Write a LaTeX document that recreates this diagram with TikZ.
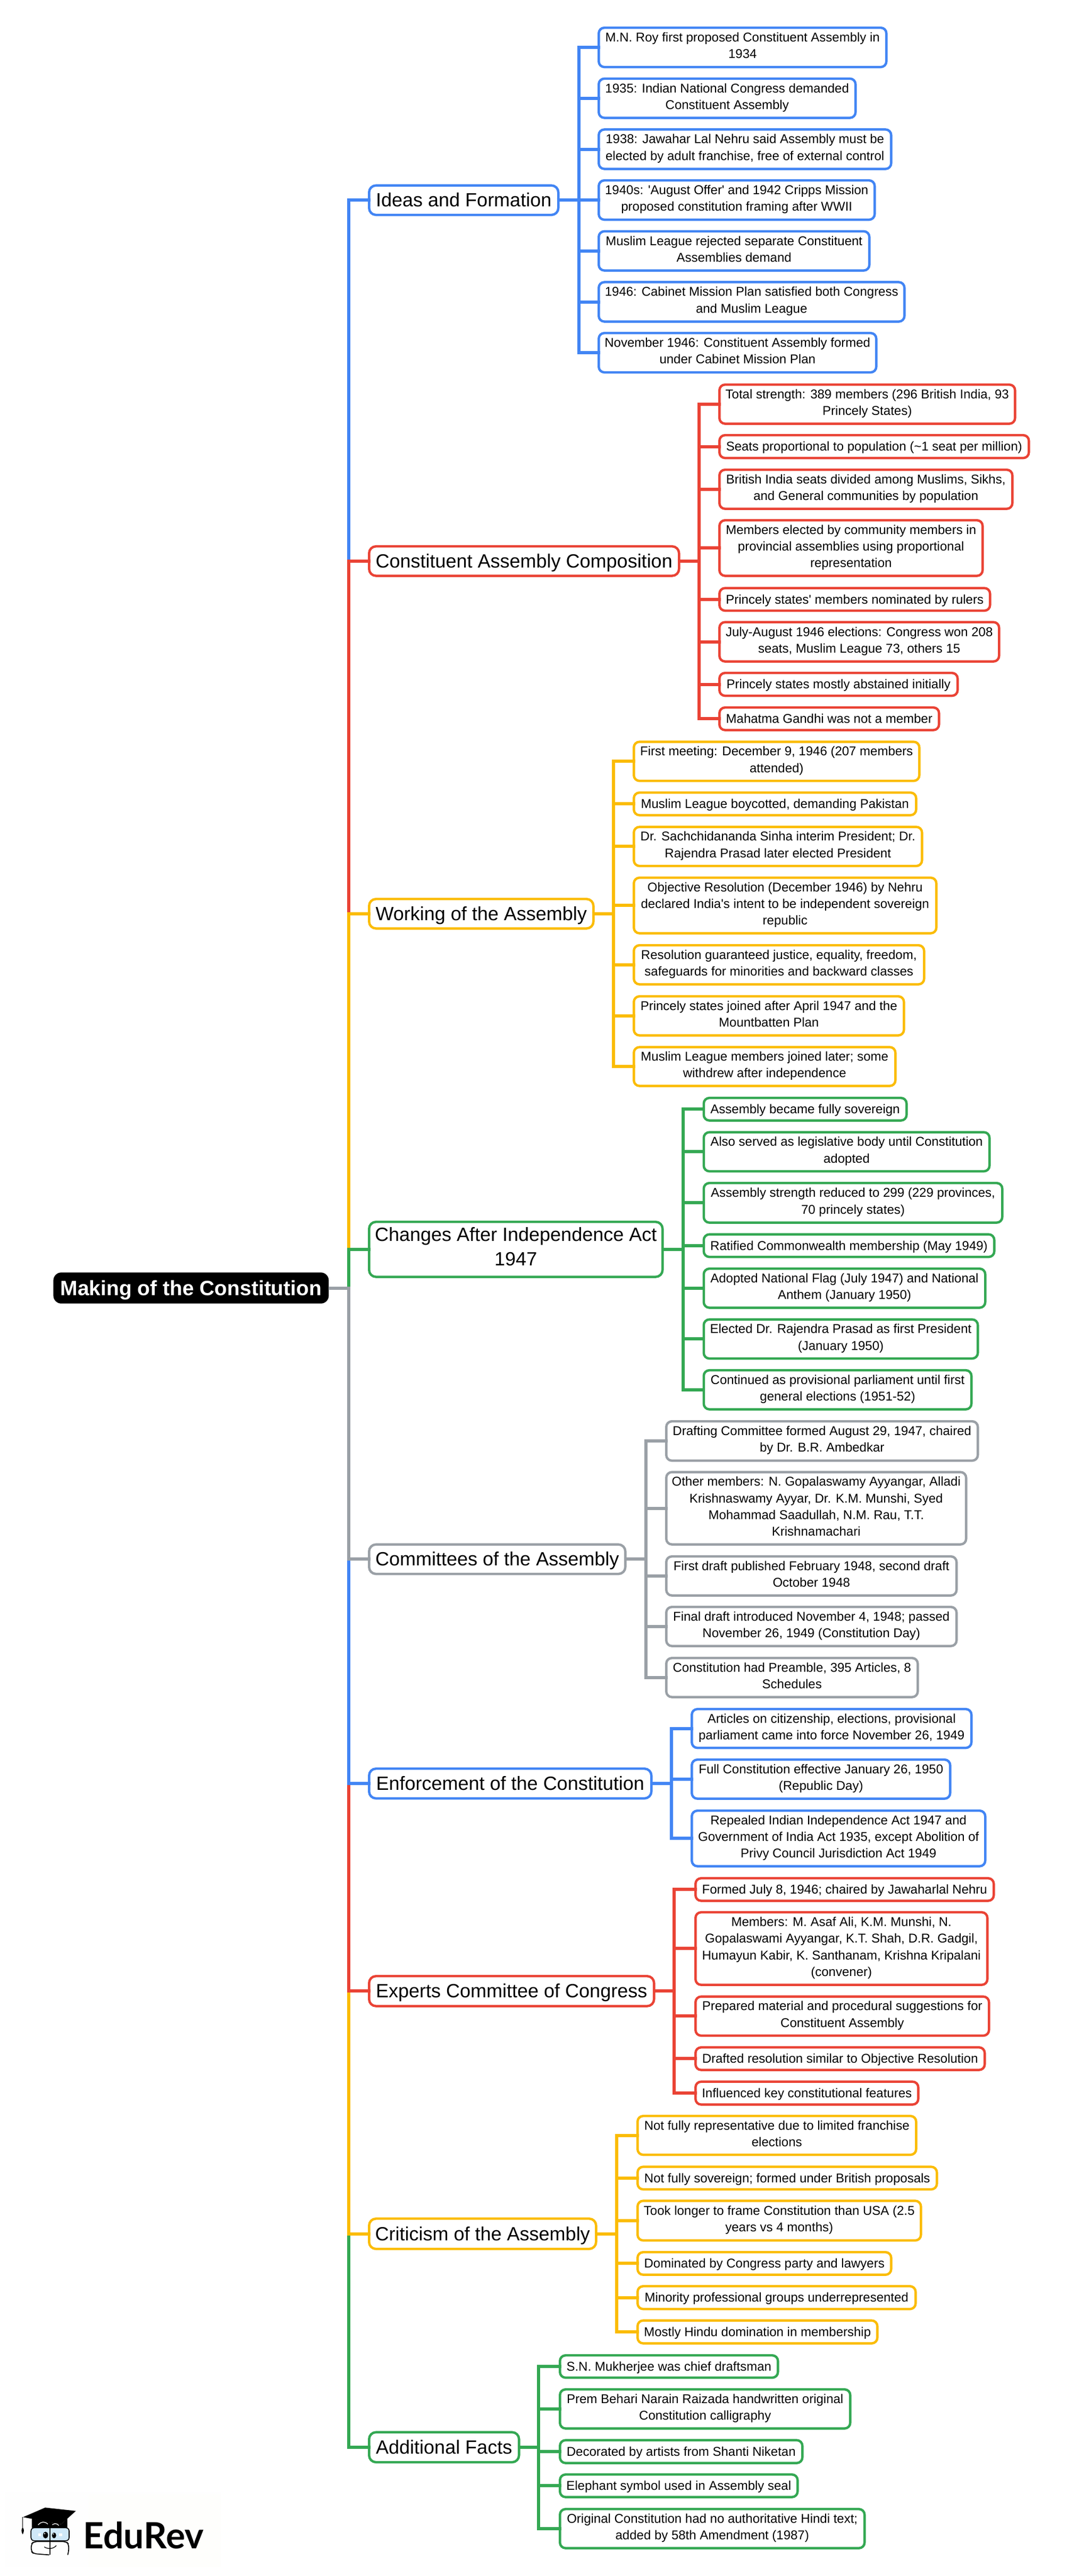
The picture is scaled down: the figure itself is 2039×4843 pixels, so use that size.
\documentclass[tikz,border=0pt]{standalone}
\usepackage{fontspec}
\setmainfont[Ligatures=TeXOff]{Liberation Sans}
\newfontfamily\latofont{Lato}
\definecolor{gblue}{HTML}{4285F4}
\definecolor{gred}{HTML}{EA4335}
\definecolor{gyellow}{HTML}{FBBC04}
\definecolor{ggreen}{HTML}{34A853}
\definecolor{ggray}{HTML}{9AA0A6}
\definecolor{glass}{HTML}{CFE8F8}
\definecolor{tintA}{HTML}{FEFEFE}
\definecolor{tintB}{HTML}{FEFEFC}
\def\lstrut{\rule[-.3035em]{0pt}{1.3em}}
\tikzset{
  box/.style={draw=#1,fill=white,line width=4.5pt,rounded corners=10.5pt,inner sep=0pt,outer sep=0pt,align=center,text=black,
    execute at begin node=\lstrut,execute at end node=\lstrut},
  leafbox/.style={box=#1,font=\fontsize{24}{31.2}\selectfont},
  mainbox/.style={box=#1,rounded corners=13pt,font=\fontsize{36}{46.8}\selectfont},
  rootbox/.style={fill=black,text=white,rounded corners=15pt,inner sep=0pt,outer sep=0pt,align=center,
    execute at begin node=\lstrut,execute at end node=\lstrut,
    font=\fontsize{39}{50}\selectfont\bfseries},
  cn/.style={draw=#1,line width=6pt,line cap=butt,line join=miter,shorten >=-2.5pt,shorten <=-2.5pt},
  rootcn/.style={draw=#1,line width=6pt,line cap=butt,line join=miter,shorten >=-2.5pt},
}
\newcommand\nd[7]{\node[#2,minimum width={#4-#3+2.5-4.5},minimum height={#6-#5+1.9-4.5}] (#1) at ({(#3+#4+.5)/2},{-(#5+#6-.3)/2}) {#7};}
\begin{document}
\begin{tikzpicture}[x=1pt,y=1pt]
\useasboundingbox (0,0) rectangle (2039,-4843);
\fill[white] (0,0) rectangle (2039,-4843);
\coordinate (m) at (655.7,0);
\coordinate (sa) at (1088.5,0);
\coordinate (sb) at (1315,0);
\coordinate (sc) at (1153.5,0);
\coordinate (sd) at (1285,0);
\coordinate (se) at (1214.5,0);
\coordinate (sf) at (1263,0);
\coordinate (sg) at (1268,0);
\coordinate (sh) at (1160,0);
\coordinate (si) at (1013,0);
% root
\node[rootbox,minimum width=518,minimum height=58.4] (root) at (359.4,-2421.5) {Making of the Constitution};
% main topics
\nd{ideas}{mainbox=gblue}{693}{1051}{347.5}{405.5}{Ideas and Formation}
\nd{comp}{mainbox=gred}{693}{1278}{1026}{1084}{Constituent Assembly Composition}
\nd{work}{mainbox=gyellow}{693}{1117}{1689}{1747}{Working of the Assembly}
\nd{chg}{mainbox=ggreen}{693}{1247}{2296}{2402}{Changes After Independence Act\\1947}
\nd{cmte}{mainbox=ggray}{693}{1177}{2902.5}{2960.5}{Committees of the Assembly}
\nd{enf}{mainbox=gblue}{693}{1226}{3324}{3382.5}{Enforcement of the Constitution}
\nd{exp}{mainbox=gred}{693}{1231}{3714}{3773}{Experts Committee of Congress}
\nd{crit}{mainbox=gyellow}{693}{1122}{4170}{4229.5}{Criticism of the Assembly}
\nd{add}{mainbox=ggreen}{693}{977}{4571.5}{4630.5}{Additional Facts}
% leaves: ideas
\nd{a1}{leafbox=gblue}{1125}{1668}{51}{127.5}{M.N. Roy first proposed Constituent Assembly in\\1934}
\nd{a2}{leafbox=gblue}{1125}{1610}{146.7}{223}{1935: Indian National Congress demanded\\Constituent Assembly}
\nd{a3}{leafbox=gblue}{1125}{1677}{242.3}{319}{1938: Jawahar Lal Nehru said Assembly must be\\elected by adult franchise, free of external control}
\nd{a4}{leafbox=gblue}{1125}{1646}{338}{414.5}{1940s: 'August Offer' and 1942 Cripps Mission\\proposed constitution framing after WWII}
\nd{a5}{leafbox=gblue}{1125}{1636}{433.7}{510}{Muslim League rejected separate Constituent\\Assemblies demand}
\nd{a6}{leafbox=gblue}{1125}{1702}{529.3}{606}{1946: Cabinet Mission Plan satisfied both Congress\\and Muslim League}
\nd{a7}{leafbox=gblue}{1125}{1649}{625}{701.5}{November 1946: Constituent Assembly formed\\under Cabinet Mission Plan}
% composition
\nd{b1}{leafbox=gred}{1352}{1910}{722}{798}{Total strength: 389 members (296 British India, 93\\Princely States)}
\nd{b2}{leafbox=gred}{1352}{1936}{817}{862.5}{Seats proportional to population (\textasciitilde 1 seat per million)}
\nd{b3}{leafbox=gred}{1352}{1905}{882}{958}{British India seats divided among Muslims, Sikhs,\\and General communities by population}
\nd{b4}{leafbox=gred}{1352}{1849}{977}{1084}{Members elected by community members in\\provincial assemblies using proportional\\representation}
\nd{b5}{leafbox=gred}{1352}{1863}{1104.5}{1149.5}{Princely states' members nominated by rulers}
\nd{b6}{leafbox=gred}{1352}{1880}{1168.5}{1245}{July-August 1946 elections: Congress won 208\\seats, Muslim League 73, others 15}
\nd{b7}{leafbox=gred}{1352}{1802}{1264}{1309.5}{Princely states mostly abstained initially}
\nd{b8}{leafbox=gred}{1352}{1767}{1329}{1374}{Mahatma Gandhi was not a member}
% working
\nd{c1}{leafbox=gyellow}{1191}{1730}{1393.5}{1469.5}{First meeting: December 9, 1946 (207 members\\attended)}
\nd{c2}{leafbox=gyellow}{1191}{1724}{1489}{1534}{Muslim League boycotted, demanding Pakistan}
\nd{c3}{leafbox=gyellow}{1191}{1735}{1553.5}{1629.5}{Dr. Sachchidananda Sinha interim President; Dr.\\Rajendra Prasad later elected President}
\nd{c4}{leafbox=gyellow}{1191}{1762}{1649}{1756}{Objective Resolution (December 1946) by Nehru\\declared India's intent to be independent sovereign\\republic}
\nd{c5}{leafbox=gyellow}{1191}{1739}{1776}{1852}{Resolution guaranteed justice, equality, freedom,\\safeguards for minorities and backward classes}
\nd{c6}{leafbox=gyellow}{1191}{1701}{1872}{1948}{Princely states joined after April 1947 and the\\Mountbatten Plan}
\nd{c7}{leafbox=gyellow}{1191}{1685}{1967.5}{2043}{Muslim League members joined later; some\\withdrew after independence}
% changes
\nd{d1}{leafbox=ggreen}{1322.5}{1706}{2063}{2108}{Assembly became fully sovereign}
\nd{d2}{leafbox=ggreen}{1322.5}{1862}{2127.5}{2203.5}{Also served as legislative body until Constitution\\adopted}
\nd{d3}{leafbox=ggreen}{1322.5}{1886}{2223}{2300}{Assembly strength reduced to 299 (229 provinces,\\70 princely states)}
\nd{d4}{leafbox=ggreen}{1322.5}{1871}{2319.5}{2364.5}{Ratified Commonwealth membership (May 1949)}
\nd{d5}{leafbox=ggreen}{1322.5}{1854}{2384}{2460}{Adopted National Flag (July 1947) and National\\Anthem (January 1950)}
\nd{d6}{leafbox=ggreen}{1322.5}{1840}{2479.5}{2555.5}{Elected Dr. Rajendra Prasad as first President\\(January 1950)}
\nd{d7}{leafbox=ggreen}{1322.5}{1828}{2575}{2651}{Continued as provisional parliament until first\\general elections (1951-52)}
% committees
\nd{e1}{leafbox=ggray}{1252}{1840}{2671}{2747.5}{Drafting Committee formed August 29, 1947, chaired\\by Dr. B.R. Ambedkar}
\nd{e2}{leafbox=ggray}{1252}{1818}{2766.5}{2905}{Other members: N. Gopalaswamy Ayyangar, Alladi\\Krishnaswamy Ayyar, Dr. K.M. Munshi, Syed\\Mohammad Saadullah, N.M. Rau, T.T.\\Krishnamachari}
\nd{e3}{leafbox=ggray}{1252}{1800}{2925}{3001}{First draft published February 1948, second draft\\October 1948}
\nd{e4}{leafbox=ggray}{1252}{1800}{3020}{3096}{Final draft introduced November 4, 1948; passed\\November 26, 1949 (Constitution Day)}
\nd{e5}{leafbox=ggray}{1252}{1727}{3116}{3192}{Constitution had Preamble, 395 Articles, 8\\Schedules}
% enforcement
\nd{f1}{leafbox=gblue}{1300}{1828}{3212}{3287.5}{Articles on citizenship, elections, provisional\\parliament came into force November 26, 1949}
\nd{f2}{leafbox=gblue}{1300}{1788}{3307}{3383}{Full Constitution effective January 26, 1950\\(Republic Day)}
\nd{f3}{leafbox=gblue}{1300}{1854}{3403}{3510}{Repealed Indian Independence Act 1947 and\\Government of India Act 1935, except Abolition of\\Privy Council Jurisdiction Act 1949}
% experts
\nd{g1}{leafbox=gred}{1307}{1870}{3530}{3575}{Formed July 8, 1946; chaired by Jawaharlal Nehru}
\nd{g2}{leafbox=gred}{1307}{1858}{3594}{3733}{Members: M. Asaf Ali, K.M. Munshi, N.\\Gopalaswami Ayyangar, K.T. Shah, D.R. Gadgil,\\Humayun Kabir, K. Santhanam, Krishna Kripalani\\(convener)}
\nd{g3}{leafbox=gred}{1307}{1861}{3752.5}{3828.5}{Prepared material and procedural suggestions for\\Constituent Assembly}
\nd{g4}{leafbox=gred}{1307}{1853}{3848}{3893}{Drafted resolution similar to Objective Resolution}
\nd{g5}{leafbox=gred}{1307}{1728}{3912.5}{3958}{Influenced key constitutional features}
% criticism
\nd{h1}{leafbox=gyellow}{1198}{1724}{3977}{4052.5}{Not fully representative due to limited franchise\\elections}
\nd{h2}{leafbox=gyellow}{1198}{1763}{4072.5}{4117.5}{Not fully sovereign; formed under British proposals}
\nd{h3}{leafbox=gyellow}{1198}{1733}{4136.5}{4213.5}{Took longer to frame Constitution than USA (2.5\\years vs 4 months)}
\nd{h4}{leafbox=gyellow}{1198}{1677}{4233}{4278}{Dominated by Congress party and lawyers}
\nd{h5}{leafbox=gyellow}{1198}{1723}{4297}{4342.5}{Minority professional groups underrepresented}
\nd{h6}{leafbox=gyellow}{1198}{1651}{4361.5}{4407}{Mostly Hindu domination in membership}
% additional
\nd{i1}{leafbox=ggreen}{1052}{1464}{4427}{4471.5}{S.N. Mukherjee was chief draftsman}
\nd{i2}{leafbox=ggreen}{1052}{1600}{4491}{4567}{Prem Behari Narain Raizada handwritten original\\Constitution calligraphy}
\nd{i3}{leafbox=ggreen}{1052}{1510}{4586.5}{4632}{Decorated by artists from Shanti Niketan}
\nd{i4}{leafbox=ggreen}{1052}{1501}{4651}{4696}{Elephant symbol used in Assembly seal}
\nd{i5}{leafbox=ggreen}{1052}{1627}{4716}{4792}{Original Constitution had no authoritative Hindi text;\\added by 58th Amendment (1987)}
% connectors from the root
\foreach \n/\c in {ideas/gblue,comp/gred,work/gyellow,chg/ggreen,add/ggreen,crit/gyellow,exp/gred,enf/gblue,cmte/ggray}
  \draw[rootcn=\c] (root.east) -- (root.east -| m) |- (\n.west);
% connectors to the leaves
\foreach \n in {a1,a2,a3,a4,a5,a6,a7} \draw[cn=gblue] (ideas.east) -- (ideas.east -| sa) |- (\n.west);
\foreach \n in {b1,b2,b3,b4,b5,b6,b7,b8} \draw[cn=gred] (comp.east) -- (comp.east -| sb) |- (\n.west);
\foreach \n in {c1,c2,c3,c4,c5,c6,c7} \draw[cn=gyellow] (work.east) -- (work.east -| sc) |- (\n.west);
\foreach \n in {d1,d2,d3,d4,d5,d6,d7} \draw[cn=ggreen] (chg.east) -- (chg.east -| sd) |- (\n.west);
\foreach \n in {e1,e2,e3,e4,e5} \draw[cn=ggray] (cmte.east) -- (cmte.east -| se) |- (\n.west);
\foreach \n in {f1,f2,f3} \draw[cn=gblue] (enf.east) -- (enf.east -| sf) |- (\n.west);
\foreach \n in {g1,g2,g3,g4,g5} \draw[cn=gred] (exp.east) -- (exp.east -| sg) |- (\n.west);
\foreach \n in {h1,h2,h3,h4,h5,h6} \draw[cn=gyellow] (crit.east) -- (crit.east -| sh) |- (\n.west);
\foreach \n in {i1,i2,i3,i4,i5} \draw[cn=ggreen] (add.east) -- (add.east -| si) |- (\n.west);
% logo
\begin{scope}[shift={(0,-4600)},x=0.3333pt,y=-0.3333pt]
  \fill[tintA] (30,255) rectangle (1245,680);
  \fill[tintB] (500,270) rectangle (1245,680);
  \fill[black] (130,397) -- (255,343) -- (428,362) -- (345,437) -- cycle;
  \fill[black] (180,405) -- (345,437) -- (380,405) -- (380,458) -- (180,458) -- cycle;
  \draw[white,line width=1.3pt] (215,441) .. controls (235,420) and (250,420) .. (270,436);
  \draw[white,line width=1.3pt] (295,440) .. controls (310,430) and (320,432) .. (332,444);
  \draw[black,line width=1pt] (128,397) -- (128,458);
  \fill[black] (128,455) .. controls (118,465) and (120,480) .. (128,494) .. controls (136,480) and (138,465) .. (128,455) -- cycle;
  \draw[black,line width=1.7pt,fill=glass,rounded corners=6pt] (175,457) rectangle (390,530);
  \draw[black,line width=1.7pt,rounded corners=6pt] (278,610) -- (190,603) -- (176,590) -- (176,550) -- (190,535) -- (375,535) -- (388,550) -- (388,590) -- (382,610);
  \draw[black,line width=1.7pt] (283,455) -- (283,610);
  \fill[black] (257,498) ellipse [x radius=14,y radius=19];
  \fill[black] (305,500) ellipse [x radius=12,y radius=16];
  \fill[white] (252,490) circle [radius=4];
  \fill[white] (301,492) circle [radius=3.5];
  \fill[white] (217,488) rectangle (232,503);
  \fill[white] (333,488) rectangle (352,503);
  \draw[black,line width=1.3pt] (250,565) .. controls (270,578) and (300,578) .. (318,557);
\end{scope}
\node[font=\latofont\bfseries\fontsize{68}{68}\selectfont,anchor=base west,inner sep=0pt] (logotext) at (156,-4791) {EduRev};
\end{tikzpicture}
\end{document}
